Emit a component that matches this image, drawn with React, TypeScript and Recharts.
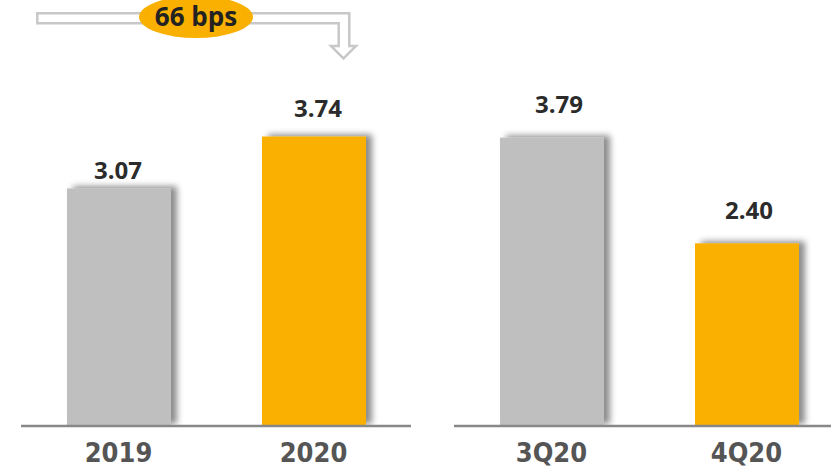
import { BarChart, Bar, XAxis, YAxis, Cell, LabelList } from 'recharts';

const annualCategories = ['2019', '2020'];
const annualValues = [3.07, 3.74];
const quarterCategories = ['3Q20', '4Q20'];
const quarterValues = [3.79, 2.4];
const barColors = ['#bfbfbf', '#f9b000'];
const changeLabel = '66 bps';

const annualData = annualCategories.map((name, i) => ({ name, value: annualValues[i] }));
const quarterData = quarterCategories.map((name, i) => ({ name, value: quarterValues[i] }));

// label nudges per bar: [dx, gap above bar top]
const annualLabelShift = [[-1, 9], [4, 20]];
const quarterLabelShift = [[7, 25], [2, 24]];

const tickStyle = {
  fill: '#555',
  fontSize: 27,
  fontWeight: 700,
  fontFamily: '"DejaVu Sans Condensed", "DejaVu Sans", sans-serif',
  fontStretch: 'condensed',
};

// bar with a soft shadow falling to the right
function ShadowBar(props: any) {
  const { x, y, width, height, fill, filterId } = props;
  return (
    <g>
      <defs>
        <filter id={filterId} x="-10%" y="-10%" width="130%" height="110%">
          <feDropShadow dx={6} dy={-2} stdDeviation={3} floodColor="#000" floodOpacity={0.45} />
        </filter>
      </defs>
      <rect x={x} y={y} width={width} height={height} fill={fill} filter={`url(#${filterId})`} />
    </g>
  );
}

function ValueLabel(props: any) {
  const { x, y, width, value, index, shifts } = props;
  const [dx, gap] = shifts[index] ?? [0, 9];
  return (
    <text
      x={x + width / 2 + dx}
      y={y - gap}
      textAnchor="middle"
      fill="#2b2b2b"
      fontSize={24}
      fontWeight={700}
      fontFamily='"Open Sans", sans-serif'
    >
      {Number(value).toFixed(2)}
    </text>
  );
}

interface PanelProps {
  data: { name: string; value: number }[];
  left: number;
  top: number;
  id: string;
  shifts: number[][];
}

function Panel({ data, left, top, id, shifts }: PanelProps) {
  return (
    <div style={{ position: 'absolute', left, top: 0 }}>
      <BarChart width={390} height={471} data={data} margin={{ top, right: 0, bottom: 0, left: 0 }}>
        <YAxis hide domain={[0, 5]} />
        <XAxis
          dataKey="name"
          height={45}
          tickSize={0}
          tickMargin={17}
          tickLine={false}
          axisLine={{ stroke: '#888', strokeWidth: 2.5 }}
          tick={tickStyle}
        />
        <Bar
          dataKey="value"
          barSize={104}
          isAnimationActive={false}
          shape={(p: any) => <ShadowBar {...p} filterId={`${id}-${p.index}`} />}
        >
          {data.map((_, i) => (
            <Cell key={i} fill={barColors[i % barColors.length]} />
          ))}
          <LabelList dataKey="value" content={(p: any) => <ValueLabel {...p} shifts={shifts} />} />
        </Bar>
      </BarChart>
    </div>
  );
}

export default function App() {
  return (
    <div
      style={{
        position: 'absolute',
        left: 0,
        top: 0,
        width: 831,
        height: 471,
        overflow: 'hidden',
        background: '#fff',
      }}
    >
      <Panel data={annualData} left={21} top={39} id="ann" shifts={annualLabelShift} />
      <Panel data={quarterData} left={454} top={45.5} id="qtr" shifts={quarterLabelShift} />
      <svg width={831} height={80} style={{ position: 'absolute', left: 0, top: 0 }}>
        <path
          d="M37.3,13.3 H349.3 V46 H356 L343.5,58.5 L331,46 H338.7 V23.3 H37.3 Z"
          fill="#fff"
          stroke="#c8c8c8"
          strokeWidth={2.5}
        />
        <ellipse cx={196} cy={17} rx={57} ry={21} fill="#f9b000" />
        <text
          x={196}
          y={26}
          textAnchor="middle"
          fill="#222"
          fontSize={26}
          fontWeight={700}
          fontFamily='"Open Sans", sans-serif'
        >
          {changeLabel}
        </text>
      </svg>
    </div>
  );
}
